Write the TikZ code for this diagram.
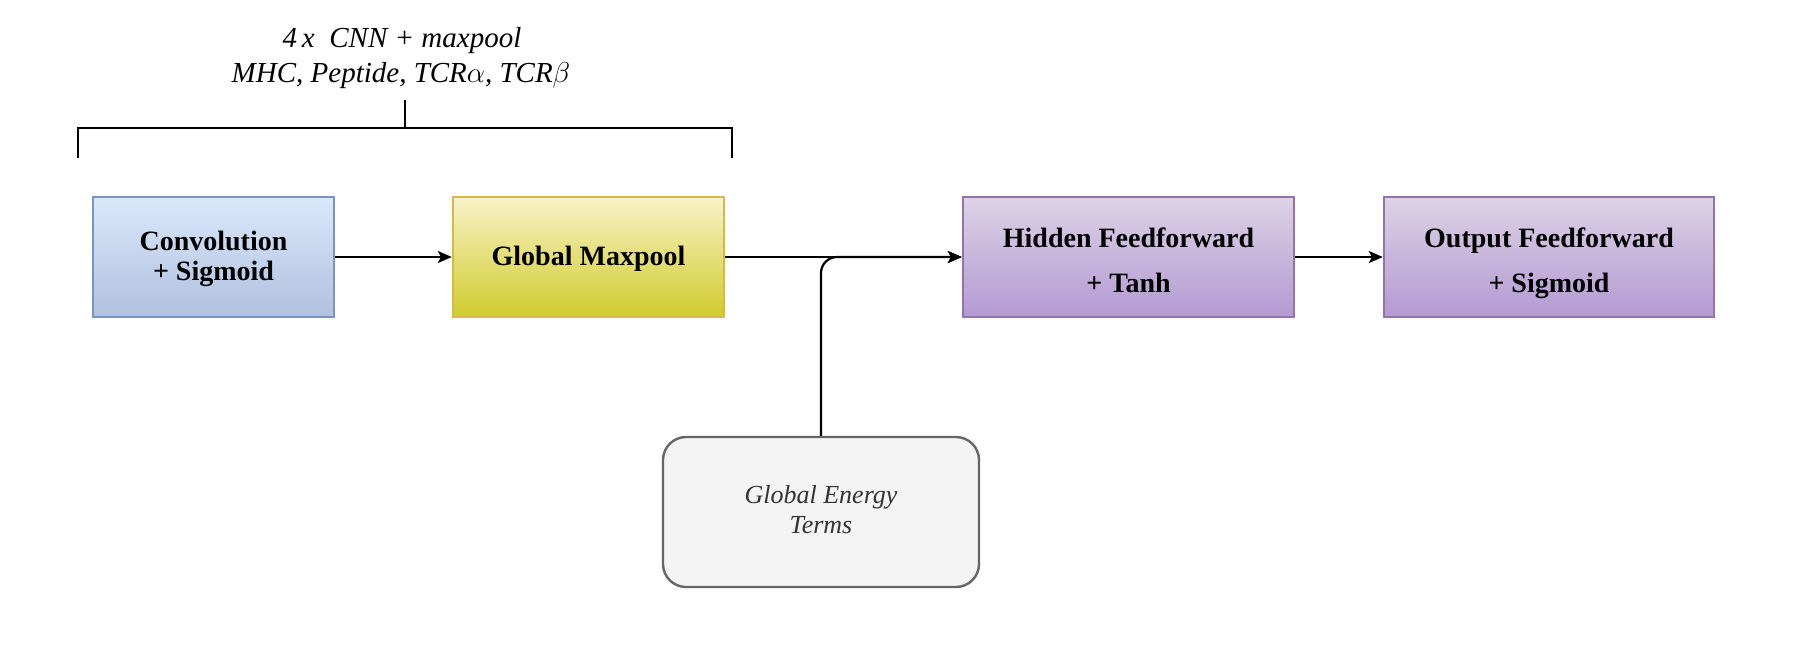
\documentclass[tikz,border=0pt]{standalone}
\usepackage{fontspec}
\setmainfont{Liberation Serif}
\usetikzlibrary{arrows.meta}
\definecolor{blueA}{HTML}{DAE8FC}
\definecolor{blueB}{HTML}{B1C0DD}
\definecolor{blueS}{HTML}{7A93C6}
\definecolor{yelA}{HTML}{F9F2C8}
\definecolor{yelB}{HTML}{D0CB2C}
\definecolor{yelS}{HTML}{D6B656}
\definecolor{purA}{HTML}{DDD2E6}
\definecolor{purB}{HTML}{B39AD2}
\definecolor{purS}{HTML}{9673A6}
\definecolor{grayF}{HTML}{F4F4F4}
\definecolor{grayS}{HTML}{666666}
\definecolor{grayT}{HTML}{333333}
\newcommand{\tsup}[1]{\rule{0pt}{#1}}
\newcommand{\tsdn}[1]{\rule[-#1]{0pt}{#1}}
\tikzset{
  blk/.style={draw, line width=1.2pt, minimum height=60pt, inner sep=0pt, align=center,
    font=\fontsize{14pt}{15pt}\selectfont\bfseries},
  bluebox/.style={blk, draw=blueS, top color=blueA, bottom color=blueB},
  yelbox/.style={blk, draw=yelS, top color=yelA, bottom color=yelB},
  purbox/.style={blk, draw=purS, top color=purA, bottom color=purB},
  graybox/.style={draw=grayS, fill=grayF, line width=1.2pt, rounded corners=11.5pt,
    minimum width=158pt, minimum height=75pt, inner sep=0pt, align=center, text=grayT,
    font=\fontsize{13pt}{15pt}\selectfont\itshape},
  conn/.style={line width=1.1pt, -{Stealth[length=7pt, width=6pt, inset=1.6pt]}},
  brk/.style={line width=1.1pt},
  ttl/.style={anchor=base, font=\fontsize{14.5pt}{17.5pt}\selectfont\itshape, inner sep=0pt}
}
\begin{document}
\begin{tikzpicture}[x=0.5pt, y=-0.5pt]
\useasboundingbox (0,0) rectangle (1813,650);
% title
\node[ttl] (t1) at (402,47) {4\,x\ \ CNN + maxpool};
\node[ttl] (t2) at (401,82) {MHC, Peptide, TCR$\alpha$, TCR$\beta$};
% bracket
\coordinate (bl) at (78,158);
\coordinate (bl2) at (78,128);
\coordinate (br2) at (732,128);
\coordinate (br) at (732,158);
\coordinate (bm) at (405,128);
\coordinate (bt) at (405,100);
\draw[brk] (bl) -- (bl2) -- (br2) -- (br);
\draw[brk] (bm) -- (bt);
% boxes
\node[bluebox, minimum width=120.5pt] (conv) at (213.5,257)
  {\tsup{11.5pt}Convolution\\+ Sigmoid\tsdn{3.5pt}};
\node[yelbox, minimum width=135.5pt] (pool) at (588.5,257)
  {\tsup{11.5pt}Global Maxpool\tsdn{3.5pt}};
\node[purbox, minimum width=165.5pt] (hid) at (1128.5,257)
  {\tsup{16pt}Hidden Feedforward\\[7.5pt]+ Tanh\tsdn{3.5pt}};
\node[purbox, minimum width=165pt] (out) at (1549,257)
  {\tsup{16pt}Output Feedforward\\[7.5pt]+ Sigmoid\tsdn{3.5pt}};
\node[graybox] (energy) at (821,512)
  {\tsup{10pt}Global Energy\\Terms\tsdn{3.5pt}};
% connectors
\draw[conn] (conv) -- (pool);
\draw[conn] (pool) -- (hid);
\draw[conn, rounded corners=8pt] (energy.north) |- (hid.west);
\draw[conn] (hid) -- (out);
\end{tikzpicture}
\end{document}
